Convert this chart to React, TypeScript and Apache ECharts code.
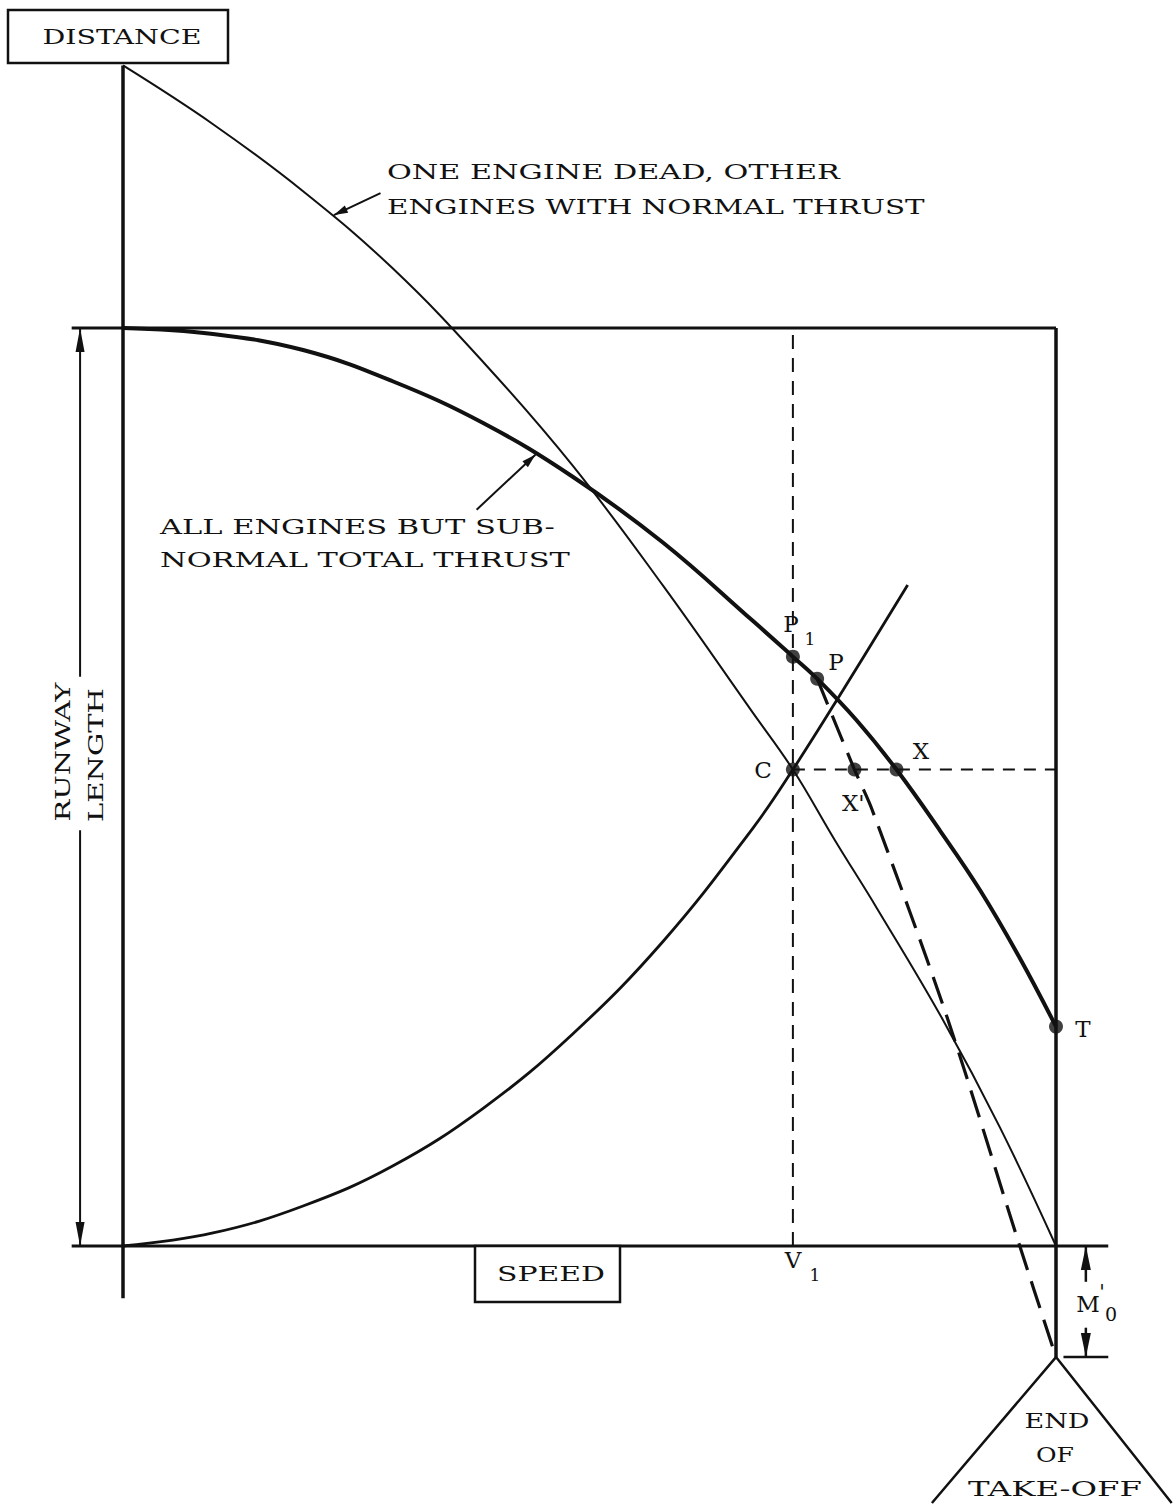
import React, { useEffect, useRef } from "react";
import * as echarts from "echarts";

// Units: speed 0..100 (100 = speed at end of runway), distance 0..100 (100 = runway length)
const V1 = 71.8;
const C_DIST = 51.9;
const END_DIST = -12.1; // end of take-off, M0' below runway end

const allEnginesSubnormal: number[][] = [
  [0, 100], [9.65, 99.35], [19.3, 97.6], [28.9, 94.2], [38.6, 89.65], [48.2, 83.8],
  [57.9, 76.6], [67.5, 68.1], [71.8, 64.2], [74.4, 61.8], [78.6, 57.3], [82.9, 51.9],
  [87.6, 45.2], [91.9, 38.7], [96.1, 31.4], [100, 23.9],
];
const oneEngineDead: number[][] = [
  [0, 128.6], [9.65, 122.2], [19.3, 114.9], [28.9, 106.5], [38.6, 96.3], [48.2, 85.0],
  [57.9, 71.9], [67.5, 58.1], [71.8, 51.9], [76.3, 44.2], [80.8, 36.8], [87.9, 24.6],
  [94.0, 12.9], [100, 0],
];
const accelerationCurve: number[][] = [
  [0, 0], [9.65, 1.42], [19.3, 4.36], [28.9, 8.71], [38.6, 15.0], [48.2, 23.1],
  [57.9, 33.2], [67.5, 45.5], [71.8, 51.9], [77.2, 60.6], [84.1, 72.0],
];
const stopLine: number[][] = [
  [74.4, 61.8], [78.4, 51.9], [80.3, 47.5], [88.3, 25.0], [95.8, 1.0], [100, -12.1],
];
const pointNames = ["P1", "P", "C", "X'", "X", "T"];
const pointValues: number[][] = [
  [71.8, 64.2], [74.4, 61.8], [71.8, 51.9], [78.4, 51.9], [82.9, 51.9], [100, 23.9],
];

// frame segments
const distanceAxis = [[0, -5.7], [0, 128.6]];
const runwayTop = [[-5.5, 100], [100, 100]];
const speedAxis = [[-5.5, 0], [105.6, 0]];
const runwayEnd = [[100, 100], [100, END_DIST]];
const m0Tick = [[100.8, END_DIST], [105.6, END_DIST]];
const triangle = [[86.7, -28.0], [100, END_DIST], [112.4, -28.0]];
const v1Line = [[V1, 0], [V1, 100]];
const cLine = [[V1, C_DIST], [100, C_DIST]];

// axis extents (hidden axes)
const X_MIN = -13, X_MAX = 112.5;
const Y_MIN = -28, Y_MAX = 135;

// arrows: [from, tip]
const arrows: { from: number[]; to: number[]; len: number; wid: number; w: number }[] = [
  { from: [-4.6, 62.0], to: [-4.6, 100], len: 24, wid: 9, w: 2 },
  { from: [-4.6, 45.3], to: [-4.6, 0], len: 24, wid: 9, w: 2 },
  { from: [103.2, -3.9], to: [103.2, 0], len: 24, wid: 10, w: 2.5 },
  { from: [103.2, -8.9], to: [103.2, END_DIST], len: 24, wid: 10, w: 2.5 },
  { from: [27.6, 114.7], to: [22.6, 112.3], len: 14, wid: 8, w: 2 },
  { from: [37.9, 80.2], to: [44.2, 86.2], len: 14, wid: 8, w: 2 },
];

const INK = "#111";
const FONT = '"DejaVu Serif", "Liberation Serif", serif';

type Lbl = { text: string; x: number; y: number; size: number; width?: number; align?: string; rot?: number };
const labels: Lbl[] = [
  { text: "DISTANCE", x: 122, y: 37, size: 21, width: 159 },
  { text: "SPEED", x: 551, y: 1274, size: 21, width: 108 },
  { text: "RUNWAY", x: 63, y: 752, size: 21, width: 139, rot: Math.PI / 2 },
  { text: "LENGTH", x: 96, y: 755, size: 21, width: 134, rot: Math.PI / 2 },
  { text: "ONE ENGINE DEAD, OTHER", x: 387, y: 172, size: 21, width: 453, align: "left" },
  { text: "ENGINES WITH NORMAL THRUST", x: 387, y: 207, size: 21, width: 538, align: "left" },
  { text: "ALL ENGINES BUT SUB-", x: 160, y: 527, size: 21, width: 395, align: "left" },
  { text: "NORMAL TOTAL THRUST", x: 160, y: 560, size: 21, width: 410, align: "left" },
  { text: "P", x: 791, y: 624, size: 23 },
  { text: "1", x: 810, y: 639, size: 17 },
  { text: "P", x: 836, y: 662, size: 23 },
  { text: "C", x: 763, y: 770, size: 23 },
  { text: "X", x: 921, y: 751, size: 23 },
  { text: "X'", x: 842, y: 803, size: 23, align: "left" },
  { text: "T", x: 1083, y: 1029, size: 23 },
  { text: "V", x: 793, y: 1260, size: 23 },
  { text: "1", x: 815, y: 1275, size: 17 },
  { text: "M", x: 1088, y: 1304, size: 23 },
  { text: "'", x: 1102, y: 1292, size: 20 },
  { text: "0", x: 1111, y: 1314, size: 19 },
  { text: "END", x: 1057, y: 1421, size: 21, width: 65 },
  { text: "OF", x: 1055, y: 1455, size: 21, width: 38 },
  { text: "TAKE-OFF", x: 1055, y: 1489, size: 21, width: 174 },
];
const boxes = [
  { x: 8, y: 10, w: 220, h: 53 },
  { x: 475, y: 1246, w: 145, h: 56 },
];

function lineSeries(data: number[][], width: number, dash?: number[] | null, smooth?: number) {
  return {
    type: "line",
    data,
    showSymbol: false,
    symbol: "none",
    clip: false,
    silent: true,
    smooth: smooth || false,
    lineStyle: { color: INK, width, type: dash || "solid", cap: "butt" },
    z: 2,
  };
}

export default function App() {
  const ref = useRef<HTMLDivElement>(null);
  useEffect(() => {
    if (!ref.current) return;
    const chart = echarts.init(ref.current, null, { renderer: "svg" });
    const series: any[] = [
      lineSeries(distanceAxis, 3.5),
      lineSeries(runwayTop, 3),
      lineSeries(speedAxis, 3),
      lineSeries(runwayEnd, 3.5),
      lineSeries(m0Tick, 2.5),
      lineSeries(triangle, 2.5),
      lineSeries(v1Line, 2, [14, 9]),
      lineSeries(cLine, 2, [12, 9]),
      lineSeries(oneEngineDead, 2, null, 0.4),
      lineSeries(allEnginesSubnormal, 4, null, 0.4),
      lineSeries(accelerationCurve, 2.8, null, 0.4),
      lineSeries(stopLine, 3.2, [28, 12], 0.3),
      ...arrows.map((a) => lineSeries([a.from, a.to], a.w)),
      {
        type: "scatter",
        data: pointValues.map((v, i) => ({ name: pointNames[i], value: v })),
        symbol: "circle",
        symbolSize: 14,
        clip: false,
        silent: true,
        itemStyle: { color: INK },
        z: 5,
      },
    ];
    // pixel scale: 9.33 px per speed unit, 9.18 px per distance unit; origin at (123, 1246)
    const left = 123 + X_MIN * 9.33;
    const right = 1174 - (123 + X_MAX * 9.33);
    const top = 1246 - Y_MAX * 9.18;
    const bottom = 1507 - (1246 - Y_MIN * 9.18);
    chart.setOption({
      animation: false,
      backgroundColor: "#fff",
      grid: { left, right, top, bottom },
      xAxis: { type: "value", min: X_MIN, max: X_MAX, show: false },
      yAxis: { type: "value", min: Y_MIN, max: Y_MAX, show: false },
      series,
    });

    const px = (p: number[]) => chart.convertToPixel({ gridIndex: 0 }, p) as number[];
    const ctx = document.createElement("canvas").getContext("2d")!;
    const graphics: any[] = [];
    arrows.forEach((a) => {
      const A = px(a.from), B = px(a.to);
      const dx = B[0] - A[0], dy = B[1] - A[1];
      const L = Math.hypot(dx, dy);
      const ux = dx / L, uy = dy / L;
      const bx = B[0] - ux * a.len, by = B[1] - uy * a.len;
      graphics.push({
        type: "polygon",
        shape: {
          points: [
            [B[0], B[1]],
            [bx - (uy * a.wid) / 2, by + (ux * a.wid) / 2],
            [bx + (uy * a.wid) / 2, by - (ux * a.wid) / 2],
          ],
        },
        style: { fill: INK },
        z: 10,
      });
    });
    boxes.forEach((b) => {
      graphics.push({
        type: "rect",
        shape: { x: b.x, y: b.y, width: b.w, height: b.h },
        style: { fill: "#fff", stroke: INK, lineWidth: 2.5 },
        z: 8,
      });
    });
    labels.forEach((l) => {
      const font = `${l.size}px ${FONT}`;
      let sx = 1;
      if (l.width) {
        ctx.font = font;
        const w = ctx.measureText(l.text).width;
        if (w > 0) sx = l.width / w;
      }
      graphics.push({
        type: "text",
        x: l.x,
        y: l.y,
        rotation: l.rot || 0,
        scaleX: sx,
        style: {
          text: l.text,
          font,
          fill: INK,
          textAlign: l.align || "center",
          textVerticalAlign: "middle",
        },
        z: 12,
      });
    });
    chart.setOption({ graphic: graphics });
    return () => chart.dispose();
  }, []);
  return (
    <div
      ref={ref}
      style={{ position: "absolute", left: 0, top: 0, width: 1174, height: 1507, background: "#fff" }}
    />
  );
}
